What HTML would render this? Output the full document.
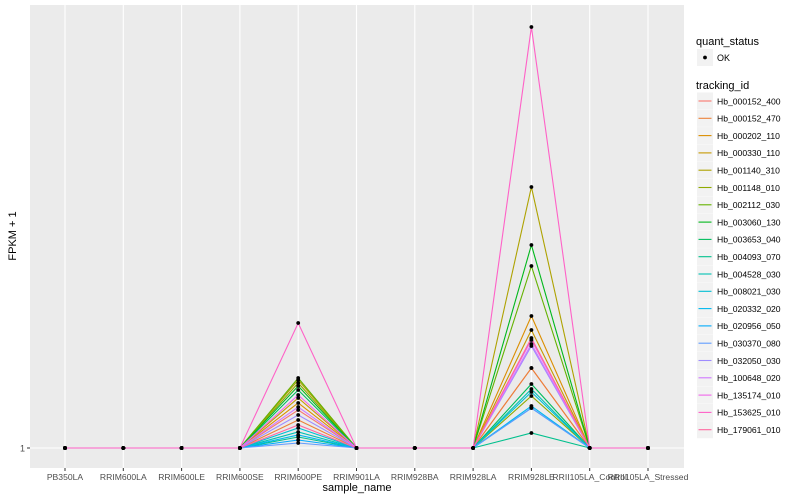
<!DOCTYPE html>
<html><head><meta charset="utf-8"><style>
html,body{margin:0;padding:0;background:#fff;width:800px;height:500px;overflow:hidden}
svg{display:block;font-family:"Liberation Sans",sans-serif}
</style></head><body>
<svg id="chart" width="800" height="500" xmlns="http://www.w3.org/2000/svg"></svg>
<script>
const categories=["PB350LA","RRIM600LA","RRIM600LE","RRIM600SE","RRIM600PE","RRIM901LA","RRIM928BA","RRIM928LA","RRIM928LE","RRII105LA_Control","RRII105LA_Stressed"];
const trackingIds=["Hb_000152_400","Hb_000152_470","Hb_000202_110","Hb_000330_110","Hb_001140_310","Hb_001148_010","Hb_002112_030","Hb_003060_130","Hb_003653_040","Hb_004093_070","Hb_004528_030","Hb_008021_030","Hb_020332_020","Hb_020956_050","Hb_030370_080","Hb_032050_030","Hb_100648_020","Hb_135174_010","Hb_153625_010","Hb_179061_010"];
const colors=["#F8766D","#EC8239","#DB8E00","#C79800","#AEA200","#8FAA00","#64B200","#00B81B","#00BD5C","#00C08D","#00C1B2","#00BFD4","#00B8EF","#00ACFC","#619CFF","#9F8CFF","#D078FF","#F066EA","#FF61C7","#FF689F"];
const valuesPE=[20,15,23.5,26,35,33.5,36,32,30,6.5,9,11,7.5,5,3.5,17.5,21.5,27.5,63.5,12.5];
const valuesLE=[41,41,67,60,131.5,27,92,102.5,33,8.5,30.5,29,22,21,21,52,53,55,211.5,56];
const yTicks=[1];
const NS="http://www.w3.org/2000/svg";
const svg=document.getElementById('chart');
function mk(tag,attrs,parent){const e=document.createElementNS(NS,tag);for(const k in attrs)e.setAttribute(k,attrs[k]);(parent||svg).appendChild(e);return e;}
const P={l:30,r:684,t:5,b:468};
const x=i=>65+i*(648-65)/(categories.length-1);
const y=v=>448-(v-1)*2;
const panel=mk('rect',{x:P.l,y:P.t,width:P.r-P.l,height:P.b-P.t,fill:'#EBEBEB'});


yTicks.forEach(t=>{
  const g=mk('line',{x1:P.l,x2:P.r,y1:y(t),y2:y(t),stroke:'#fff','stroke-width':1.1});
  
  
  mk('line',{x1:P.l-3,x2:P.l,y1:y(t),y2:y(t),stroke:'#333'});
  const lb=mk('text',{x:P.l-5,y:y(t)+3.5,'text-anchor':'end','font-size':9,fill:'#4d4d4d'});
  lb.textContent=t;
  
  
});
categories.forEach((c,i)=>{
  const g=mk('line',{x1:x(i),x2:x(i),y1:P.t,y2:P.b,stroke:'#fff','stroke-width':1.1});
  
  
  mk('line',{x1:x(i),x2:x(i),y1:P.b,y2:P.b+3,stroke:'#333'});
  const lb=mk('text',{x:x(i),y:480,'text-anchor':'middle','font-size':8.6,fill:'#4d4d4d'});
  lb.textContent=c;
  
  
});
function seriesVals(s){return categories.map((c,i)=>i===4?valuesPE[s]:(i===8?valuesLE[s]:1));}
const order=trackingIds.map((d,i)=>i).filter(i=>i!==18).concat([18]);
order.forEach(s=>{
  const id=trackingIds[s];
  const vals=seriesVals(s);
  const pl=mk('polyline',{points:vals.map((v,i)=>x(i)+','+y(v)).join(' '),fill:'none',stroke:colors[s],'stroke-width':1.1});
  
  
});
trackingIds.forEach((id,s)=>{
  seriesVals(s).forEach((v,i)=>{
    const p=mk('circle',{cx:x(i),cy:y(v),r:1.9,fill:'#000'});
    
    
  });
});
const xt=mk('text',{x:(P.l+P.r)/2,y:491,'text-anchor':'middle','font-size':11,fill:'#000'});
xt.textContent='sample_name';


const yt=mk('text',{x:16,y:236,'text-anchor':'middle','font-size':11,fill:'#000',transform:'rotate(-90 16 236)'});
yt.textContent='FPKM + 1';


const q=mk('text',{x:696,y:45,'font-size':11,fill:'#000'});
q.textContent='quant_status';


mk('rect',{x:697,y:49,width:16,height:17,fill:'#F2F2F2'});
mk('circle',{cx:705,cy:57.5,r:1.9,fill:'#000'});
const ok=mk('text',{x:717,y:61,'font-size':9,fill:'#000'});
ok.textContent='OK';


const tt=mk('text',{x:696,y:89,'font-size':11,fill:'#000'});
tt.textContent='tracking_id';


trackingIds.forEach((id,s)=>{
  const cy=101+s*17.3;
  mk('rect',{x:697,y:cy-8.5,width:16,height:17,fill:'#F2F2F2'});
  mk('line',{x1:698.5,x2:711.5,y1:cy,y2:cy,stroke:colors[s],'stroke-width':1.1});
  const t=mk('text',{x:717,y:cy+3.3,'font-size':8.6,fill:'#000'});
  t.textContent=id;
  
  
});
</script>
</body></html>
